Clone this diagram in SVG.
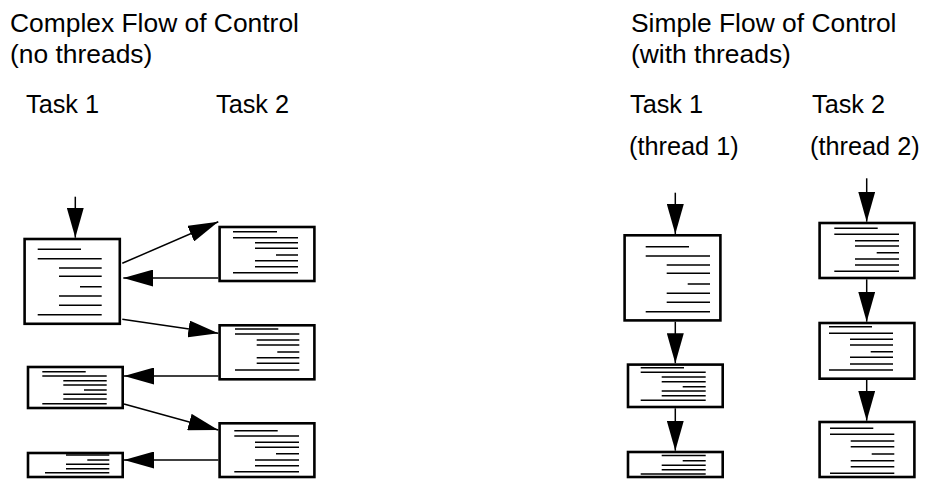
<svg xmlns="http://www.w3.org/2000/svg" width="927" height="479" viewBox="0 0 927 479">
<style>
text{font-family:"Liberation Sans",Arial,sans-serif;fill:#000}
.t{font-size:26.4px}
.s{font-size:25.3px}
.box{fill:#fff;stroke:#000;stroke-width:2.6}
.ln{stroke:#000;stroke-width:1.4;fill:none}
.c{stroke:#000;stroke-width:1.5;fill:none;marker-end:url(#ah)}
</style>
<defs>
<marker id="ah" viewBox="0 0 30 17" refX="30" refY="8.5" markerWidth="30" markerHeight="17" markerUnits="userSpaceOnUse" orient="auto">
<path d="M0,0 L30,8.5 L0,17 z" fill="#000"/>
</marker>
</defs>
<g id="labels">
<text class="t" x="10" y="32">Complex Flow of Control</text>
<text class="t" x="10" y="63">(no threads)</text>
<text class="s" x="26" y="113">Task 1</text>
<text class="s" x="216" y="113">Task 2</text>
<text class="t" x="631" y="32">Simple Flow of Control</text>
<text class="t" x="631" y="63">(with threads)</text>
<text class="s" x="630" y="113">Task 1</text>
<text class="s" x="812" y="113">Task 2</text>
<text class="s" x="629" y="155">(thread 1)</text>
<text class="s" x="810" y="155">(thread 2)</text>
</g>
<g id="connectors">
<line class="c" x1="75.3" y1="196.7" x2="75.3" y2="237.7"/>
<line class="c" x1="122.3" y1="263.3" x2="218.3" y2="221.7"/>
<line class="c" x1="218.3" y1="278" x2="123.3" y2="278"/>
<line class="c" x1="122.3" y1="319.3" x2="218.3" y2="333.3"/>
<line class="c" x1="218.3" y1="376" x2="124" y2="376"/>
<line class="c" x1="124" y1="404" x2="218.3" y2="430"/>
<line class="c" x1="218.3" y1="460" x2="124" y2="460"/>
<line class="c" x1="675.3" y1="192.7" x2="675.3" y2="234"/>
<line class="c" x1="675.3" y1="321.7" x2="675.3" y2="363.3"/>
<line class="c" x1="675.3" y1="408.3" x2="675.3" y2="450.7"/>
<line class="c" x1="866.7" y1="178.3" x2="866.7" y2="221.7"/>
<line class="c" x1="866.7" y1="279.3" x2="866.7" y2="321.7"/>
<line class="c" x1="866.7" y1="380" x2="866.7" y2="420.7"/>
</g>
<g id="t1-box1">
<rect class="box" x="24.6" y="239" width="95.2" height="84.8"/>
<path class="ln" d="M37.7,249.3H81M37.7,258.7H101.7M59,268H101.7M59,276.3H101.7M80,286.7H101.7M59,296H101.7M59,305.3H101.7M37.7,314.7H101.7"/>
</g>
<g id="t2-box1">
<rect class="box" x="219.6" y="227" width="94.8" height="54"/>
<path class="ln" d="M233,231.7H277M233,237.7H298M255,242.7H298M255,248.3H298M276,255H298M255,260.7H298M255,266.7H298M233,272.7H298"/>
</g>
<g id="t2-box2">
<rect class="box" x="219.6" y="325.3" width="94.8" height="54"/>
<path class="ln" d="M235,329H278.3M235,334H299.3M256.7,340H299.3M256.7,345H299.3M277.3,352H299.3M256.7,357.7H299.3M256.7,363.3H299.3M235,370H299.3"/>
</g>
<g id="t1-box2">
<rect class="box" x="28" y="367" width="94.7" height="41"/>
<path class="ln" d="M42.3,371.7H85.7M42.3,376H106.7M63.3,380.7H106.7M63.3,385H106.7M84,390H106.7M63.3,394.3H106.7M63.3,399H106.7M42.3,403.7H106.7"/>
</g>
<g id="t2-box3">
<rect class="box" x="219.6" y="423.3" width="94.8" height="53.7"/>
<path class="ln" d="M234.3,430.7H277.7M234.3,436H299M255,442.3H299M255,447.3H299M276,453.7H299M255,460H299M255,465.7H299M234.3,471.7H299"/>
</g>
<g id="t1-box3">
<rect class="box" x="28" y="453" width="94.7" height="24"/>
<path class="ln" d="M66,455H109.3M87.3,460H109.3M66,464.3H109.3M66,468.7H109.3M45,472.7H109.3"/>
</g>
<g id="th1-box1">
<rect class="box" x="624.6" y="235.3" width="95.8" height="85.1"/>
<path class="ln" d="M645.7,246.7H689M645.7,256H710M666.7,265H710M666.7,273.3H710M687.7,284H710M666.7,293.3H710M666.7,302.3H710M645.7,311.7H710"/>
</g>
<g id="th1-box2">
<rect class="box" x="628" y="364.6" width="94.7" height="42.4"/>
<path class="ln" d="M640.7,367.7H684M640.7,372.3H705.7M661.7,377H705.7M661.7,381.7H705.7M682.7,386.7H705.7M661.7,391H705.7M661.7,395.7H705.7M640.7,400.3H705.7"/>
</g>
<g id="th1-box3">
<rect class="box" x="628" y="452" width="94.7" height="25"/>
<path class="ln" d="M661.7,455.5H705.7M682.7,460.7H705.7M661.7,465.3H705.7M661.7,469.7H705.7M640.7,474H705.7"/>
</g>
<g id="th2-box1">
<rect class="box" x="819.6" y="223" width="94.8" height="55"/>
<path class="ln" d="M834.3,228.3H877.7M834.3,234.3H899M855,240.7H899M855,246H899M876.7,252.7H899M855,259H899M855,265H899M834.3,271.3H899"/>
</g>
<g id="th2-box2">
<rect class="box" x="819.6" y="323" width="94.8" height="55.7"/>
<path class="ln" d="M829,326.7H872M829,333.3H893M850,339.3H893M850,345H893M870.7,351.7H893M850,357.3H893M850,364H893M829,370H893"/>
</g>
<g id="th2-box3">
<rect class="box" x="819.6" y="422" width="94.8" height="55"/>
<path class="ln" d="M830,428.3H873.3M830,434.3H894.3M850.7,441H894.3M850.7,446.7H894.3M871.7,454H894.3M850.7,460.7H894.3M850.7,466.7H894.3M830,473.3H894.3"/>
</g>
</svg>
